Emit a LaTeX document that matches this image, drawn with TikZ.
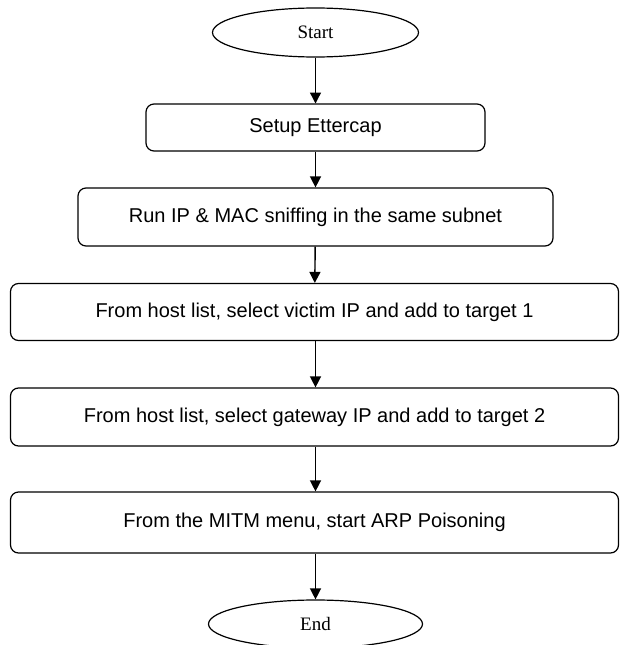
\documentclass[tikz,border=0pt]{standalone}
\usepackage{fontspec}
\setmainfont{Liberation Serif}
\newfontfamily\arialf{Liberation Sans}
\usetikzlibrary{shapes.geometric,arrows.meta}
\tikzset{
  stepbox/.style={draw=black, line width=1.2pt, rounded corners=8pt, fill=white,
    inner sep=0pt, font=\arialf\fontsize{20}{24}\selectfont},
  term/.style={draw=black, line width=1.2pt, ellipse, inner sep=0pt, fill=white,
    font=\fontsize{19}{23}\selectfont},
  flow/.style={line width=1.4pt, -{Triangle[length=11pt,width=11pt]}}
}
\begin{document}
\begin{tikzpicture}[x=1pt,y=-1pt]
\useasboundingbox (0,0) rectangle (620,645);
\begin{scope}
\clip (0,0) rectangle (620,645);
\node[term, minimum width=206pt, minimum height=49pt] (start) at (315.5,32.5) {Start};
\node[stepbox, minimum width=339pt, minimum height=47pt] (setup) at (315.5,127.5) {Setup Ettercap};
\node[stepbox, minimum width=475pt, minimum height=58pt] (run) at (315.5,217) {Run IP \& MAC sniffing in the same subnet};
\node[stepbox, minimum width=608pt, minimum height=57pt] (t1) at (314.5,312) {From host list, select victim IP and add to target 1};
\node[stepbox, minimum width=608pt, minimum height=58pt] (t2) at (314.5,417) {From host list, select gateway IP and add to target 2};
\node[stepbox, minimum width=608pt, minimum height=61pt] (arp) at (314.5,522.5) {From the MITM menu, start ARP Poisoning};
\node[term, minimum width=214pt, minimum height=48pt] (end) at (315.5,624) {End};
\draw[flow] (start.south -| 315.5,0) -- (315.5,103.5);
\draw[flow] (setup) -- (run);
\draw[flow] (run) -- (t1);
\draw[flow] (t1.south -| 315.5,0) -- (t2.north -| 315.5,0);
\draw[flow] (t2.south -| 315.5,0) -- (arp.north -| 315.5,0);
\draw[flow] (arp.south -| 315.5,0) -- (end.north -| 315.5,0);
\end{scope}
\end{tikzpicture}
\end{document}
